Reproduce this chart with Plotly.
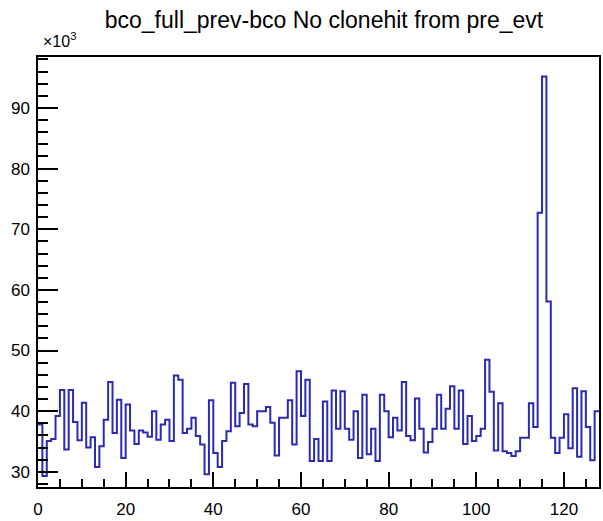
import numpy as np
import plotly.graph_objects as go

# Histogram: bco_full_prev-bco, 128 bins of width 1 starting at 0
bin_low = 0.0
bin_width = 1.0
# bin contents in units of 10^3 entries
counts_k = [
    37.8, 29.3, 35.1, 35.4, 39.2, 43.5, 33.7, 43.5, 38.2, 35.2,
    41.4, 34.0, 35.7, 30.8, 34.2, 38.6, 44.8, 36.4, 41.9, 32.3,
    41.1, 36.8, 34.6, 36.8, 36.5, 35.8, 40.0, 35.3, 37.8, 38.6,
    35.1, 45.9, 45.2, 36.4, 37.1, 38.9, 35.9, 34.5, 29.6, 41.8,
    33.1, 30.8, 35.1, 36.7, 44.7, 37.5, 39.7, 44.5, 37.8, 37.5,
    40.0, 40.0, 40.7, 38.1, 32.7, 38.9, 38.9, 41.8, 34.5, 46.6,
    39.2, 45.2, 31.8, 35.4, 31.8, 41.6, 31.8, 43.4, 37.1, 43.3,
    37.1, 35.3, 40.0, 32.3, 42.7, 32.9, 37.1, 31.8, 42.7, 40.0,
    35.7, 38.9, 36.8, 44.8, 35.9, 35.2, 42.1, 37.1, 33.2, 34.9,
    37.1, 42.7, 37.1, 40.4, 44.1, 37.1, 43.4, 34.6, 39.2, 35.1,
    35.9, 37.1, 48.5, 43.2, 33.5, 41.3, 33.4, 33.1, 32.6, 33.4,
    35.6, 35.6, 41.3, 37.4, 72.7, 95.2, 58.1, 35.6, 33.1, 35.6,
    39.5, 33.9, 43.8, 32.5, 43.3, 37.4, 31.9, 40.0,
]

x_tick_vals = [0, 20, 40, 60, 80, 100, 120]
y_tick_vals = [30, 40, 50, 60, 70, 80, 90]
y_axis_range = [27.5, 98.4]   # visible y range (units of 10^3)

title_text = "bco_full_prev-bco No clonehit from pre_evt"
exponent_text = "\u00d710<sup>3</sup>"

edges = bin_low + bin_width * np.arange(len(counts_k) + 1)
y_step = list(counts_k) + [counts_k[-1]]

FONT = "Liberation Sans, Arial, sans-serif"

fig = go.Figure()
fig.add_trace(go.Scatter(
    x=edges, y=y_step, mode="lines",
    line=dict(shape="hv", color="#2a2ab4", width=2),
    hoverinfo="skip", showlegend=False,
))

fig.update_layout(
    width=603, height=521,
    margin=dict(l=38, r=2, t=57, b=32),
    paper_bgcolor="white", plot_bgcolor="white",
    font=dict(family=FONT, color="black"),
    title=dict(text=title_text, x=324 / 603, xanchor="center",
               y=1 - 20 / 521, yanchor="middle", yref="container",
               font=dict(family=FONT, size=23, color="black")),
    annotations=[dict(text=exponent_text, xref="paper", yref="paper",
                      x=0.006, y=1.04, xanchor="left", yanchor="middle",
                      showarrow=False, font=dict(family=FONT, size=16, color="black"))],
)

fig.update_xaxes(
    range=[edges[0], edges[-1]],
    tickvals=x_tick_vals, ticks="inside", ticklen=15, tickwidth=1.5, tickcolor="black",
    minor=dict(ticks="inside", dtick=5, ticklen=8, tickwidth=1.5, tickcolor="black"),
    showline=True, linecolor="black", linewidth=1.5, mirror=True,
    showgrid=False, zeroline=False,
    tickfont=dict(family=FONT, size=17, color="black"),
    ticklabelstandoff=6,
)
fig.update_yaxes(
    range=y_axis_range,
    tickvals=y_tick_vals, ticks="inside", ticklen=20, tickwidth=1.5, tickcolor="black",
    minor=dict(ticks="inside", dtick=2, ticklen=10, tickwidth=1.5, tickcolor="black"),
    showline=True, linecolor="black", linewidth=1.5, mirror=True,
    showgrid=False, zeroline=False,
    tickfont=dict(family=FONT, size=17, color="black"),
    ticklabelstandoff=3,
)

fig.write_html("out.html")
